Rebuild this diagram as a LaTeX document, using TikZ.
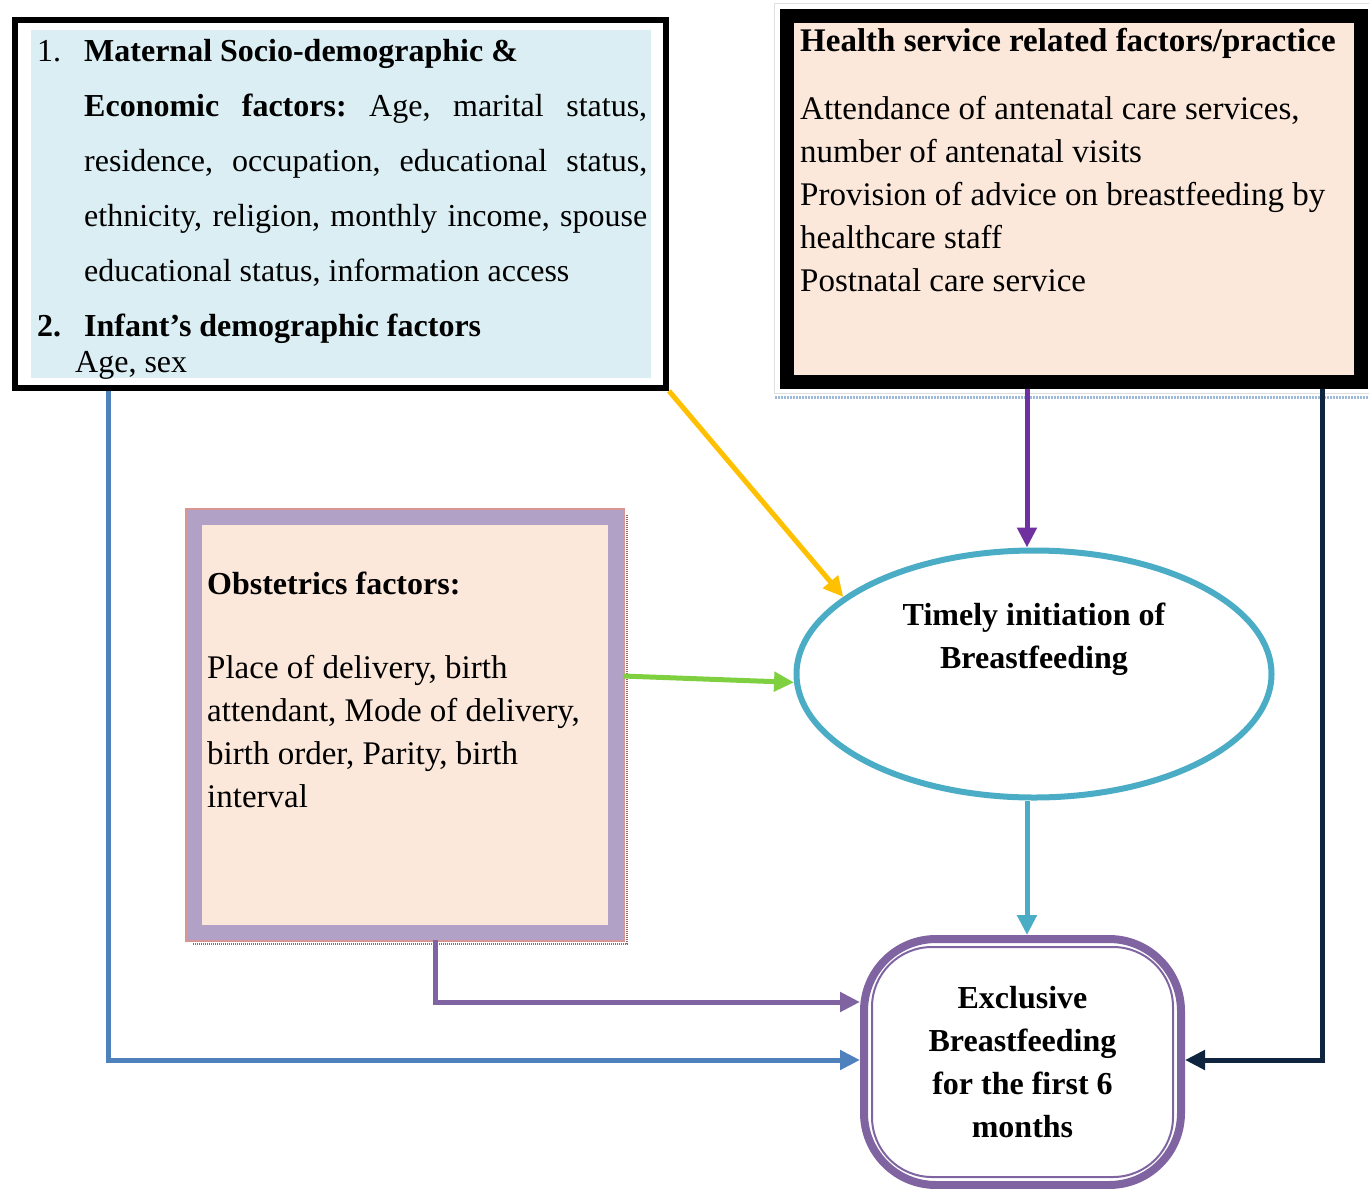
\documentclass[tikz,border=0pt]{standalone}
\usepackage{fontspec}
\setmainfont{Liberation Serif}
\usetikzlibrary{arrows.meta,shapes.geometric}

\definecolor{boxblue}{HTML}{DAEEF3}
\definecolor{boxpeach}{HTML}{FCE8DA}
\definecolor{bandpurple}{HTML}{B2A1C7}
\definecolor{edgepink}{HTML}{D99594}
\definecolor{ringteal}{HTML}{4BACC6}
\definecolor{ebfpurple}{HTML}{8064A2}
\definecolor{lineblue}{HTML}{4F81BD}
\definecolor{lineorange}{HTML}{FFC000}
\definecolor{linegreen}{HTML}{7FD040}
\definecolor{linepurple}{HTML}{7030A0}
\definecolor{linenavy}{HTML}{0F243E}

\begin{document}
\frenchspacing
\begin{tikzpicture}[x=1pt, y=-1pt,
        flow/.style={line width=5pt, -{Triangle[length=20pt, width=19pt]}},
        bodytext/.style={inner sep=0pt, anchor=base west, font=\fontsize{32}{43}\selectfont},
        headtext/.style={inner sep=0pt, align=center, font=\bfseries\fontsize{32}{43}\selectfont}]
        \useasboundingbox (0, 0) rectangle (1369, 1189);

        \node[draw=black, fill=white, line width=6pt, minimum width=651pt, minimum height=368pt, inner sep=0pt] (mat) at (340.5, 204) {};
        \fill[boxblue] (31, 30) rectangle (651, 378);
        \node[bodytext] (mattext) at (37, 61) {\parbox[t]{610pt}{\fontsize{32}{55}\selectfont
                \makebox[47pt][l]{1.}\textbf{Maternal Socio-demographic \&}\\
                \hspace*{47pt}\makebox[563pt][s]{\textbf{Economic factors:} Age, marital status,}\\
                \hspace*{47pt}\makebox[563pt][s]{residence, occupation, educational status,}\\
                \hspace*{47pt}\makebox[563pt][s]{ethnicity, religion, monthly income, spouse}\\
                \hspace*{47pt}educational status, information access\\
                \makebox[47pt][l]{\textbf{2.}}\textbf{Infant’s demographic factors}\\[-19pt]
                \hspace*{38pt}Age, sex}};

        \draw[black!12, line width=1pt] (774, 3) rectangle (1369, 393);
        \node[draw=black, fill=boxpeach, line width=14pt, minimum width=574pt, minimum height=366pt, inner sep=0pt] (hsf) at (1074, 199) {};
        \draw[lineblue!55, line width=3pt, dash pattern=on 2pt off 1pt] (775, 397) -- (1369, 397);
        \node[bodytext] (hsftext) at (800, 51) {\parbox[t]{560pt}{\fontsize{33}{43}\selectfont
                \textbf{Health service related factors/practice}\\[25pt]
                Attendance of antenatal care services,\\
                number of antenatal visits\\
                Provision of advice on breastfeeding by\\
                healthcare staff\\
                Postnatal care service}};

        \node[draw=bandpurple, fill=boxpeach, line width=15pt, minimum width=421pt, minimum height=415pt, inner sep=0pt] (obst) at (405, 724.5) {};
        \draw[edgepink, line width=2pt] ([shift={(-1,-1)}]obst.north west) rectangle ([shift={(1,1)}]obst.south east);
        \draw[edgepink!70!black, line width=2pt, dash pattern=on 1pt off 1pt] ([shift={(4,5)}]obst.north east) -- ([shift={(4,4)}]obst.south east) -- ([shift={(5,4)}]obst.south west);
        \node[bodytext] (obsttext) at (207, 594) {\parbox[t]{400pt}{\fontsize{33}{43}\selectfont
                {\bfseries\fontsize{32}{43}\selectfont Obstetrics factors:}\\[41pt]
                Place of delivery, birth\\
                attendant, Mode of delivery,\\
                birth order, Parity, birth\\
                interval}};

        \node[draw=ringteal, line width=6pt, ellipse, minimum width=475pt, minimum height=247pt, inner sep=0pt] (timely) at (1034, 674) {};
        \node[headtext] (timelytext) at (1034, 639) {Timely initiation of\\Breastfeeding};

        \node[draw=ebfpurple, line width=8pt, rounded corners=72pt, minimum width=317pt, minimum height=246pt, headtext] (exc) at (1022.5, 1062) {Exclusive\\Breastfeeding\\for the first 6\\months};
        \draw[ebfpurple, line width=2pt, rounded corners=60pt] ([shift={(12,12)}]exc.north west) rectangle ([shift={(-12,-12)}]exc.south east);

        \coordinate (bturn) at (108, 1060);
        \coordinate (pturn) at (435, 1002);
        \coordinate (nturn) at (1322, 1060);
        \coordinate (vcol) at (1027, 0);
        \coordinate (gstart) at (625, 676);

        \draw[flow, lineblue] (mat.south -| bturn) |- (exc.west |- bturn);
        \draw[flow, lineorange] (mat.south east) -- (timely.158);
        \draw[flow, linegreen] (obst.east |- gstart) -- (timely.182);
        \draw[flow, linepurple] (hsf.south -| vcol) -- (timely.north -| vcol);
        \draw[flow, ringteal] (timely.south -| vcol) -- (exc.north -| vcol);
        \draw[flow, ebfpurple] (obst.south -| pturn) |- (exc.west |- pturn);
        \draw[flow, linenavy] (hsf.south -| nturn) |- (exc.east |- nturn);
\end{tikzpicture}
\end{document}
